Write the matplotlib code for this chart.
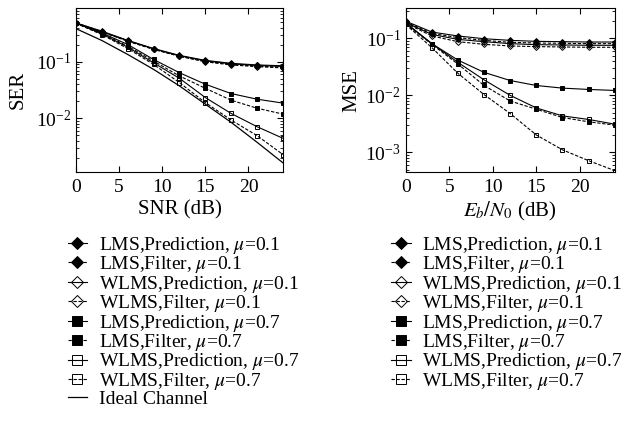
import matplotlib
matplotlib.use("Agg")
import matplotlib.pyplot as plt

plt.rcParams['font.family'] = ['Liberation Serif', 'DejaVu Serif']
plt.rcParams['mathtext.fontset'] = 'stix'

# --- data ---
snr = [0, 3, 6, 9, 12, 15, 18, 21, 24]

labels = [
    "LMS,Prediction, $\\mu$=0.1",
    "LMS,Filter, $\\mu$=0.1",
    "WLMS,Prediction, $\\mu$=0.1",
    "WLMS,Filter, $\\mu$=0.1",
    "LMS,Prediction, $\\mu$=0.7",
    "LMS,Filter, $\\mu$=0.7",
    "WLMS,Prediction, $\\mu$=0.7",
    "WLMS,Filter, $\\mu$=0.7",
]

# SER (left panel)
ser_lms_pred_01 = [0.49, 0.35, 0.24, 0.172, 0.130, 0.106, 0.094, 0.088, 0.085]
ser_lms_filt_01 = [0.49, 0.345, 0.235, 0.168, 0.127, 0.102, 0.090, 0.084, 0.080]
ser_wlms_pred_01 = [0.48, 0.34, 0.238, 0.170, 0.128, 0.104, 0.092, 0.086, 0.083]
ser_wlms_filt_01 = [0.48, 0.34, 0.232, 0.166, 0.125, 0.100, 0.088, 0.082, 0.078]
ser_lms_pred_07 = [0.489, 0.326, 0.203, 0.110, 0.064, 0.040, 0.0273, 0.0217, 0.0185]
ser_lms_filt_07 = [0.489, 0.317, 0.190, 0.103, 0.056, 0.0339, 0.0208, 0.0150, 0.0118]
ser_wlms_pred_07 = [0.489, 0.313, 0.182, 0.096, 0.0509, 0.0232, 0.0121, 0.00705, 0.00439]
ser_wlms_filt_07 = [0.482, 0.304, 0.172, 0.090, 0.0427, 0.0189, 0.00924, 0.00489, 0.00226]
ser_ideal = [0.388, 0.239, 0.135, 0.0734, 0.0373, 0.0177, 0.00841, 0.00373, 0.00161]

# MSE (right panel)
mse_lms_pred_01 = [0.200, 0.129, 0.110, 0.0985, 0.0922, 0.0886, 0.0874, 0.0862, 0.0862]
mse_lms_filt_01 = [0.194, 0.122, 0.103, 0.0922, 0.0851, 0.0829, 0.0818, 0.0807, 0.0807]
mse_wlms_pred_01 = [0.189, 0.117, 0.0959, 0.0874, 0.0807, 0.0775, 0.0765, 0.0755, 0.0755]
mse_wlms_filt_01 = [0.184, 0.110, 0.0874, 0.0786, 0.0735, 0.0716, 0.0706, 0.0697, 0.0697]
mse_lms_pred_07 = [0.187, 0.0807, 0.0415, 0.0253, 0.0182, 0.0149, 0.0134, 0.0127, 0.0122]
mse_lms_filt_07 = [0.179, 0.0786, 0.0353, 0.0149, 0.00796, 0.00571, 0.00409, 0.00344, 0.00301]
mse_wlms_pred_07 = [0.184, 0.0807, 0.0378, 0.0187, 0.0100, 0.00602, 0.00437, 0.00378, 0.00313]
mse_wlms_filt_07 = [0.175, 0.0688, 0.0243, 0.0103, 0.00480, 0.00202, 0.00111, 0.000716, 0.000480]

ser_series = [ser_lms_pred_01, ser_lms_filt_01, ser_wlms_pred_01, ser_wlms_filt_01,
              ser_lms_pred_07, ser_lms_filt_07, ser_wlms_pred_07, ser_wlms_filt_07]
mse_series = [mse_lms_pred_01, mse_lms_filt_01, mse_wlms_pred_01, mse_wlms_filt_01,
              mse_lms_pred_07, mse_lms_filt_07, mse_wlms_pred_07, mse_wlms_filt_07]

# styles: marker, filled?, dashed?
styles = [("D", True, False), ("D", True, True), ("D", False, False), ("D", False, True),
          ("s", True, False), ("s", True, True), ("s", False, False), ("s", False, True)]

fig = plt.figure(figsize=(6.33, 4.23), dpi=100)
ax1 = fig.add_axes([0.120, 0.593, 0.327, 0.388])
ax2 = fig.add_axes([0.641, 0.593, 0.330, 0.388])


def draw(ax, series):
    handles = []
    for ys, lab, (mk, filled, dashed) in zip(series, labels, styles):
        h, = ax.plot(snr, ys, color="black", lw=0.8,
                     linestyle=(0, (3, 1.5)) if dashed else "-",
                     marker=mk, ms=3.0 if mk == "D" else 3.2,
                     mfc="black" if filled else "none", mec="black", mew=0.7,
                     label=lab)
        handles.append(h)
    return handles


h1 = draw(ax1, ser_series)
hi, = ax1.plot(snr, ser_ideal, color="black", lw=0.9, label="Ideal Channel")
h1.append(hi)
h2 = draw(ax2, mse_series)

for ax in (ax1, ax2):
    ax.set_yscale("log")
    ax.set_xlim(0, 24)
    ax.set_xticks([0, 5, 10, 15, 20])
    ax.tick_params(which="both", direction="in", top=True, right=True, labelsize=14)
    ax.tick_params(axis="x", pad=5)
    ax.tick_params(which="major", length=4)
    ax.tick_params(which="minor", length=2)

ax1.set_ylim(1.1e-3, 0.9)
ax2.set_ylim(4.5e-4, 0.34)

ax1.set_xlabel("SNR (dB)", fontsize=15, labelpad=3)
ax1.set_ylabel("SER", fontsize=15, labelpad=6)
ax2.set_xlabel("$E_b/N_0$ (dB)", fontsize=15, labelpad=3)
ax2.set_ylabel("MSE", fontsize=15, labelpad=3)

leg_kw = dict(frameon=False, fontsize=14, labelspacing=-0.08, handlelength=1.0,
              handletextpad=0.6, markerscale=2.2, borderpad=0, borderaxespad=0)
fig.legend(handles=h1, loc="upper left", bbox_to_anchor=(0.107, 0.445), **leg_kw)
fig.legend(handles=h2, loc="upper left", bbox_to_anchor=(0.618, 0.445), **leg_kw)

fig.savefig("out.png", dpi=100)
